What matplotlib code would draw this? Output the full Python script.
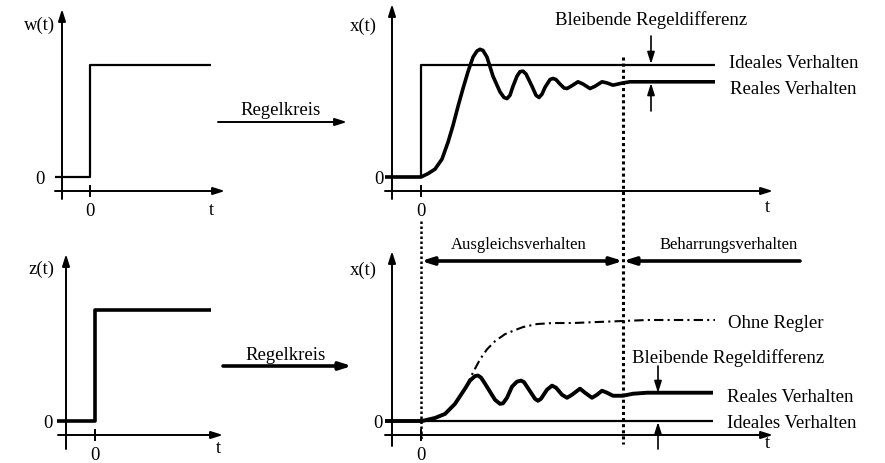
import matplotlib.pyplot as plt

plt.rcParams['font.family'] = ['Liberation Serif', 'DejaVu Serif']

# Sprungfunktionen (t in Zeiteinheiten, Werte normiert auf Sprunghoehe)
w_t = [-1.75, 0, 0, 6.05]
w_v = [0, 0, 1, 1]
z_t = [-1.9, 0, 0, 5.8]
z_v = [0, 0, 1, 1]

# Fuehrungsverhalten: ideal und real
ideal_oben_t = [-1.8, 0, 0, 14.7]
ideal_oben_v = [0, 0, 1, 1]
real_oben_t = [-1.8, 0, 0.35, 0.7, 1.05, 1.35, 1.6, 1.85, 2.1, 2.35, 2.6, 2.8, 2.95,
               3.1, 3.3, 3.6, 3.95, 4.15, 4.3, 4.45, 4.6, 4.8, 4.95, 5.1, 5.25, 5.55,
               5.75, 5.9, 6.05, 6.2, 6.45, 6.6, 6.75, 6.95, 7.15, 7.3, 7.5, 7.85, 8.1,
               8.45, 8.7, 9.05, 9.3, 9.6, 10.1, 10.45, 14.7]
real_oben_v = [0, 0, 0.03, 0.07, 0.16, 0.31, 0.46, 0.63, 0.79, 0.94, 1.07, 1.125, 1.14,
               1.13, 1.07, 0.90, 0.76, 0.71, 0.70, 0.73, 0.81, 0.90, 0.94, 0.945, 0.92, 0.81,
               0.73, 0.71, 0.74, 0.80, 0.87, 0.88, 0.87, 0.83, 0.795, 0.79, 0.81, 0.85, 0.83,
               0.79, 0.81, 0.85, 0.84, 0.82, 0.84, 0.85, 0.85]

# Stoerverhalten: ideal, real und ohne Regler
ideal_unten_t = [-1.8, 14.6]
ideal_unten_v = [0, 0]
real_unten_t = [-1.8, 0.05, 0.7, 1.2, 1.7, 2.2, 2.45, 2.7, 2.85, 3.0, 3.2, 3.45, 3.7,
                3.95, 4.1, 4.3, 4.55, 4.8, 5.0, 5.15, 5.4, 5.7, 5.85, 6.0, 6.3, 6.55,
                6.75, 7.05, 7.3, 7.55, 7.95, 8.2, 8.55, 8.8, 9.05, 9.3, 9.6, 10.1, 10.6,
                11.3, 14.6]
real_unten_v = [0, 0, 0.03, 0.07, 0.17, 0.32, 0.40, 0.445, 0.45, 0.43, 0.37, 0.29, 0.21,
                0.17, 0.175, 0.23, 0.34, 0.39, 0.40, 0.385, 0.31, 0.22, 0.20, 0.22, 0.31, 0.35,
                0.33, 0.26, 0.23, 0.26, 0.32, 0.28, 0.23, 0.26, 0.30, 0.28, 0.25, 0.25, 0.27,
                0.28, 0.28]
ohne_t = [0, 0.7, 1.2, 1.7, 2.2, 2.6, 2.95, 3.3, 3.7, 4.2, 4.7, 5.1, 5.8, 6.6, 7.6,
          8.8, 10.1, 11.3, 14.7]
ohne_v = [0, 0.03, 0.07, 0.17, 0.32, 0.48, 0.61, 0.71, 0.79, 0.86, 0.90, 0.93, 0.96,
          0.97, 0.97, 0.98, 0.99, 1.0, 1.0]

W, H = 885, 464
fig = plt.figure(figsize=(W / 100, H / 100), dpi=100)


def panel(px0, py0, ppx, ppy):
    # Achsen ueber die ganze Flaeche, Nullpunkt bei Pixel (px0, py0)
    ax = fig.add_axes([0, 0, 1, 1])
    ax.set_xlim(-px0 / ppx, (W - px0) / ppx)
    ax.set_ylim((py0 - H) / ppy, py0 / ppy)
    ax.axis('off')
    ax.patch.set_visible(False)
    return ax


ov = fig.add_axes([0, 0, 1, 1])
ov.set_xlim(0, W)
ov.set_ylim(H, 0)
ov.axis('off')
ov.patch.set_visible(False)


def arrow(x0, y0, x1, y1, lw=1.4, style='-|>', ms=10):
    ov.annotate('', xy=(x1, y1), xytext=(x0, y0),
                arrowprops=dict(arrowstyle=style + ',head_length=0.7,head_width=0.22',
                                lw=lw, color='black', shrinkA=0, shrinkB=0,
                                mutation_scale=ms))


def txt(x, y, s, ha='center', fs=13.5):
    ov.text(x, y, s, ha=ha, va='baseline', fontsize=fs)


# Koordinatenachsen
for xa, ya0, ya1, xx0, xx1, yx, tick in [(62, 200, 10, 55, 225, 192, 90),
                                         (66, 450, 255, 58, 223, 436, 95),
                                         (392, 200, 5, 385, 773, 192, 421),
                                         (392, 447, 252, 385, 773, 436, 421)]:
    arrow(xa, ya0, xa, ya1)
    arrow(xx0, yx, xx1, yx)
    ov.plot([tick, tick], [yx - 5, yx + 5], color='black', lw=1.4)

# Kurven
kurve = dict(color='black', solid_joinstyle='round', solid_capstyle='butt')

ax1 = panel(90, 178, 20, 112)
ax1.plot(w_t, w_v, lw=1.6, **kurve)

ax3 = panel(95, 422, 20, 111)
ax3.plot(z_t, z_v, lw=2.6, **kurve)

ax2 = panel(421, 178, 20, 112)
ax2.plot(ideal_oben_t, ideal_oben_v, lw=1.6, **kurve)
ax2.plot(real_oben_t, real_oben_v, lw=2.6, **kurve)

ax4 = panel(421, 422, 20, 101)
ax4.plot(ohne_t, ohne_v, color='black', lw=1.5, linestyle=(0, (4.5, 2, 1, 2)))
ax4.plot(ideal_unten_t, ideal_unten_v, lw=1.6, **kurve)
ax4.plot(real_unten_t, real_unten_v, lw=2.8, **kurve)

# gepunktete Trennlinien
ov.plot([623, 623], [58, 445], color='black', lw=2.2, linestyle=(0, (1, 1)))
ov.plot([421, 421], [222, 442], color='black', lw=1.8, linestyle=(0, (1, 1)))

# Regelkreis-Pfeile
arrow(218, 123, 347, 123, lw=1.4)
arrow(223, 367, 352, 367, lw=2.6)
txt(240, 115, 'Regelkreis', ha='left')
txt(245, 360, 'Regelkreis', ha='left')

# bleibende Regeldifferenz
arrow(651, 37, 651, 65, lw=1.2)
arrow(651, 112, 651, 84, lw=1.2)
arrow(658, 367, 658, 394, lw=1.2)
arrow(658, 450, 658, 423, lw=1.2)
txt(651, 25, 'Bleibende Regeldifferenz')
txt(632, 363, 'Bleibende Regeldifferenz', ha='left')

# Zeitbereiche
arrow(421, 262, 623, 262, lw=2.6, style='<|-|>')
arrow(800, 262, 623, 262, lw=2.6)
txt(519, 249, 'Ausgleichsverhalten', fs=12)
txt(729, 249, 'Beharrungsverhalten', fs=12)

# Beschriftungen
txt(729, 68, 'Ideales Verhalten', ha='left')
txt(730, 94, 'Reales Verhalten', ha='left')
txt(728, 328, 'Ohne Regler', ha='left')
txt(727, 402, 'Reales Verhalten', ha='left')
txt(727, 428, 'Ideales Verhalten', ha='left')

txt(40, 30, 'w(t)')
txt(40, 184, '0')
txt(90, 216, '0')
txt(211, 215, 't')

txt(41, 274, 'z(t)')
txt(48, 428, '0')
txt(95, 460, '0')
txt(218, 453, 't')

txt(363, 31, 'x(t)')
txt(379, 184, '0')
txt(421, 216, '0')
txt(767, 212, 't')

txt(363, 275, 'x(t)')
txt(378, 428, '0')
txt(421, 460, '0')
txt(767, 448, 't')

fig.savefig('out.png', dpi=100)
